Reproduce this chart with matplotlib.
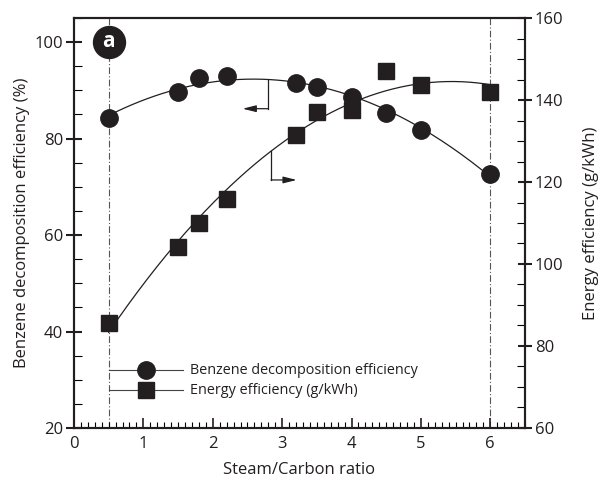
import numpy as np
import matplotlib
matplotlib.use("Agg")
import matplotlib.pyplot as plt
from matplotlib.ticker import MultipleLocator

plt.rcParams['font.family'] = ['Open Sans', 'DejaVu Sans']

ratio = [0.5, 1.5, 1.8, 2.2, 3.2, 3.5, 4.0, 4.5, 5.0, 6.0]
benzene = [84.3, 89.6, 92.5, 92.9, 91.6, 90.6, 88.7, 85.4, 81.8, 72.7]
energy = [85.7, 104.1, 110.0, 115.9, 131.5, 137.1, 137.6, 147.1, 143.7, 141.9]

xticks = [0, 1, 2, 3, 4, 5, 6]
lticks = [20, 40, 60, 80, 100]
rticks = [60, 80, 100, 120, 140, 160]

ink = '#231f20'

fig = plt.figure(figsize=(6.06, 4.83), dpi=100)
ax = fig.add_axes([0.1221, 0.1139, 0.7442, 0.8488])
ax2 = ax.twinx()

ax.set_xlim(0, 6.5)
ax.set_ylim(20, 105)
ax2.set_ylim(60, 160)

# fit curves
xs = np.linspace(0.5, 6.0, 200)
pb = np.polyfit(ratio, benzene, 2)
pe = np.polyfit(ratio, energy, 2)
ax.plot(xs, np.polyval(pb, xs), color=ink, lw=0.9, zorder=2)
ax2.plot(xs, np.polyval(pe, xs), color=ink, lw=0.9, zorder=2)

ax.plot(ratio, benzene, 'o', color=ink, ms=12.5, zorder=3, clip_on=False)
ax2.plot(ratio, energy, 's', color=ink, ms=11, zorder=3, clip_on=False)

# dash-dot verticals
for xv in (0.5, 6.0):
    ax.axvline(xv, color='#555555', lw=0.8, ls='-.', dashes=(6, 2, 1, 2), zorder=1)

# arrows
xb = 2.80
ax.plot([xb, xb], [np.polyval(pb, xb), 86.2], color=ink, lw=0.9)
ax.annotate('', xy=(2.43, 86.2), xytext=(xb, 86.2),
            arrowprops=dict(arrowstyle='-|>,head_length=0.8,head_width=0.2', color=ink, lw=0.9,
                            shrinkA=0, shrinkB=0))
xe = 2.84
ax2.plot([xe, xe], [np.polyval(pe, xe), 120.5], color=ink, lw=0.9)
ax2.annotate('', xy=(3.21, 120.5), xytext=(xe, 120.5),
             arrowprops=dict(arrowstyle='-|>,head_length=0.8,head_width=0.2', color=ink, lw=0.9,
                             shrinkA=0, shrinkB=0))

# legend (custom)
leg_y1, leg_y2 = 32.0, 27.8
ax.plot([0.5, 1.57], [leg_y1, leg_y1], color='#444444', lw=0.8)
ax.plot([0.5, 1.57], [leg_y2, leg_y2], color='#444444', lw=0.8)
ax.plot([1.04], [leg_y1], 'o', color=ink, ms=12.5)
ax.plot([1.04], [leg_y2], 's', color=ink, ms=11)
ax.text(1.67, leg_y1, 'Benzene decomposition efficiency', fontsize=10.4, va='center', color=ink)
ax.text(1.67, leg_y2, 'Energy efficiency (g/kWh)', fontsize=10.4, va='center', color=ink)

# 'a' badge
ax.plot([0.5], [100], 'o', color=ink, ms=23, zorder=4, clip_on=False)
ax.text(0.5, 100.2, 'a', color='white', fontsize=15, fontweight='bold', ha='center', va='center', zorder=5)

# ticks
ax.set_xticks(xticks)
ax.set_yticks(lticks)
ax2.set_yticks(rticks)
ax.xaxis.set_minor_locator(MultipleLocator(0.1))
ax.yaxis.set_minor_locator(MultipleLocator(5))
ax2.yaxis.set_minor_locator(MultipleLocator(5))
ax.tick_params(axis='x', which='major', direction='in', length=7, width=1.2, labelsize=12, pad=6, colors=ink)
ax.tick_params(axis='x', which='minor', direction='in', length=4, width=0.8)
ax.tick_params(axis='y', which='major', direction='inout', length=12, width=1.5, labelsize=12, pad=2, colors=ink)
ax.tick_params(axis='y', which='minor', direction='in', length=6, width=0.8)
ax2.tick_params(axis='y', which='major', direction='inout', length=10, width=1.5, labelsize=12, pad=2, colors=ink)
ax2.tick_params(axis='y', which='minor', direction='in', length=6, width=0.8)

for a in (ax, ax2):
    for s in a.spines.values():
        s.set_linewidth(1.5)
        s.set_color(ink)

ax.set_xlabel('Steam/Carbon ratio', fontsize=12, color=ink, labelpad=7)
ax.set_ylabel('Benzene decomposition efficiency (%)', fontsize=12, color=ink, labelpad=3)
ax2.set_ylabel('Energy efficiency (g/kWh)', fontsize=12, color=ink, labelpad=14)

fig.savefig('out.png', dpi=100)
